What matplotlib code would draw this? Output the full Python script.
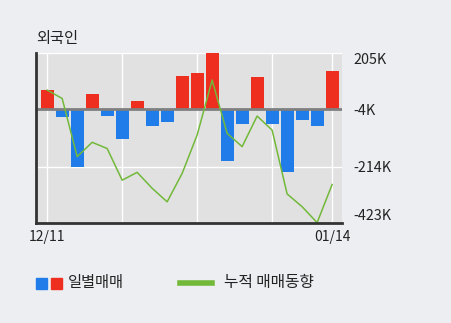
import numpy as np
import matplotlib.pyplot as plt

plt.rcParams['font.family'] = ['Noto Sans CJK KR', 'DejaVu Sans']

# daily net trades (thousand shares) and cumulative trend
daily = [69, -30, -214, 54, -26, -113, 28, -63, -48, 121,
         132, 205, -192, -58, 117, -58, -233, -41, -63, 139]
cumulative = [69, 38, -177, -124, -147, -264, -235, -294, -344, -239,
              -97, 106, -91, -140, -27, -79, -315, -362, -421, -280]
date_labels = ['12/11', '01/14']
y_ticks = [205, -4, -214, -423]
y_labels = ['205K', '-4K', '-214K', '-423K']

RED = '#ee2e1e'
BLUE = '#1f7ce8'
GREEN = '#72b93a'
TEXT = '#222222'

fig = plt.figure(figsize=(4.51, 3.23), dpi=100)
fig.patch.set_facecolor('#eceef2')
ax = fig.add_axes([0.079, 0.309, 0.679, 0.526])
ax.set_facecolor('#e1e1e1')

x = np.arange(len(daily))
colors = [RED if v > 0 else BLUE for v in daily]
ax.bar(x, daily, width=0.88, color=colors, zorder=2)
ax.axhline(0, color='#7f7f7f', lw=2, zorder=3)
ax.plot(x, cumulative, color=GREEN, lw=1.1, zorder=4)

# grid lines
for gx in [0, 5, 10, 15, 19]:
    ax.axvline(gx, color='white', lw=1.0, zorder=1)
for gy in [205, -214]:
    ax.axhline(gy, color='white', lw=1.0, zorder=1)

ax.set_xlim(-0.77, 19.65)
ax.set_ylim(-423, 205)

for s in ['top', 'right']:
    ax.spines[s].set_visible(False)
for s in ['left', 'bottom']:
    ax.spines[s].set_color('#333333')
    ax.spines[s].set_linewidth(2)
    ax.spines[s].set_zorder(5)

ax.set_xticks([0, 19])
ax.set_xticklabels(date_labels, fontsize=10, color=TEXT)
ax.tick_params(axis='x', length=0, pad=5)

ax.yaxis.tick_right()
ax.set_yticks(y_ticks)
ax.set_yticklabels(y_labels, fontsize=10.3, color=TEXT)
ax.tick_params(axis='y', length=0, pad=8)
labels = ax.get_yticklabels()
labels[0].set_va('top')
labels[-1].set_va('bottom')

fig.text(0.080, 0.882, '외국인', fontsize=11, color=TEXT, va='center')

# legend
fig.patches.append(plt.Rectangle((36 / 451, 1 - 289 / 323), 11 / 451, 11 / 323,
                                 transform=fig.transFigure, color=BLUE))
fig.patches.append(plt.Rectangle((51 / 451, 1 - 289 / 323), 11 / 451, 11 / 323,
                                 transform=fig.transFigure, color=RED))
fig.text(68 / 451, 1 - 283 / 323, '일별매매', fontsize=11, color=TEXT, va='center')
fig.add_artist(plt.Line2D([180 / 451, 212 / 451], [1 - 283 / 323, 1 - 283 / 323],
                          transform=fig.transFigure, color=GREEN, lw=4))
fig.text(224 / 451, 1 - 283 / 323, '누적 매매동향', fontsize=11.3, color=TEXT, va='center')

fig.savefig('out.png', dpi=100, facecolor=fig.get_facecolor())
